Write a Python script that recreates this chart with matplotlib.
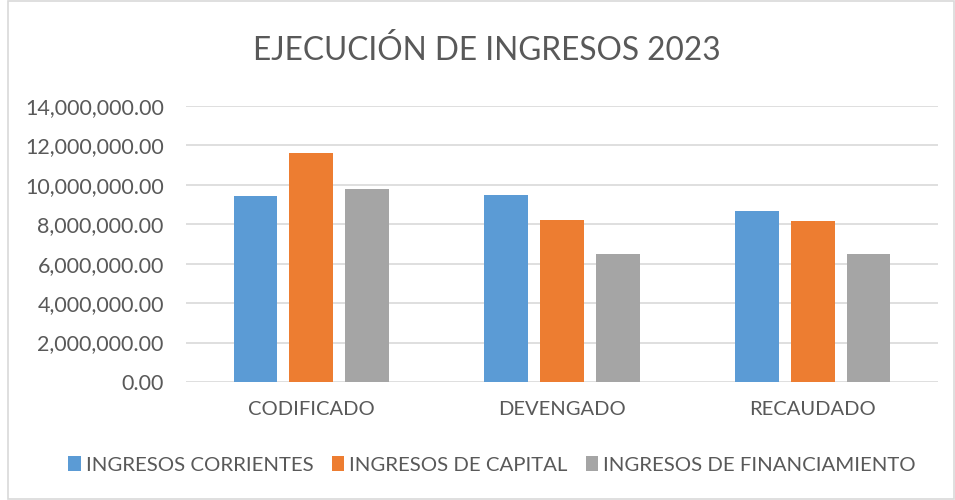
import numpy as np
import matplotlib.pyplot as plt
from matplotlib.patches import Rectangle
from matplotlib.ticker import FuncFormatter

plt.rcParams['font.family'] = ['Lato', 'DejaVu Sans']

categories = ['CODIFICADO', 'DEVENGADO', 'RECAUDADO']
series = ['INGRESOS CORRIENTES', 'INGRESOS DE CAPITAL', 'INGRESOS DE FINANCIAMIENTO']
corrientes = [9440000, 9470000, 8660000]
capital = [11620000, 8200000, 8180000]
financiamiento = [9800000, 6510000, 6510000]
colors = ['#5B9BD5', '#ED7D31', '#A5A5A5']
text_color = '#595959'

fig = plt.figure(figsize=(9.55, 5.0), dpi=100)
ax = fig.add_axes([186 / 955, 1 - 382 / 500, 752 / 955, 276 / 500])

x = np.arange(len(categories))
w = 0.175
step = 0.223
for i, (vals, name) in enumerate(zip([corrientes, capital, financiamiento], series)):
    ax.bar(x + (i - 1) * step, vals, w, color=colors[i], label=name, zorder=3)

ax.set_xlim(-0.5, 2.5)
ax.set_ylim(0, 14000000)
ax.set_yticks(np.arange(0, 14000001, 2000000))
ax.yaxis.set_major_formatter(FuncFormatter(lambda v, p: f'{v:,.2f}'))
ax.set_xticks(x)
ax.set_xticklabels(categories)
ax.grid(axis='y', color='#D9D9D9', linewidth=1.2, zorder=0)
for s in ['top', 'right', 'left', 'bottom']:
    ax.spines[s].set_visible(False)
ax.tick_params(axis='both', length=0, colors=text_color)
ax.tick_params(axis='y', pad=16, labelsize=15.5)
ax.tick_params(axis='x', pad=14, labelsize=14.5)

fig.text(487 / 955, 1 - 50 / 500, 'EJECUCIÓN DE INGRESOS 2023', ha='center', va='center',
         fontsize=22.8, color=text_color)

fig.legend(loc='center', bbox_to_anchor=(492 / 955, 1 - 465 / 500), ncol=3, frameon=False,
           fontsize=14.7, labelcolor=text_color, handlelength=0.6, handleheight=0.75,
           handletextpad=0.25, columnspacing=0.9)

fig.patches.append(Rectangle((8 / 955, 0.002), 946 / 955, 0.996, transform=fig.transFigure,
                             fill=False, edgecolor='#D9D9D9', linewidth=1.2))

fig.savefig('out.png', dpi=100, facecolor='white')
